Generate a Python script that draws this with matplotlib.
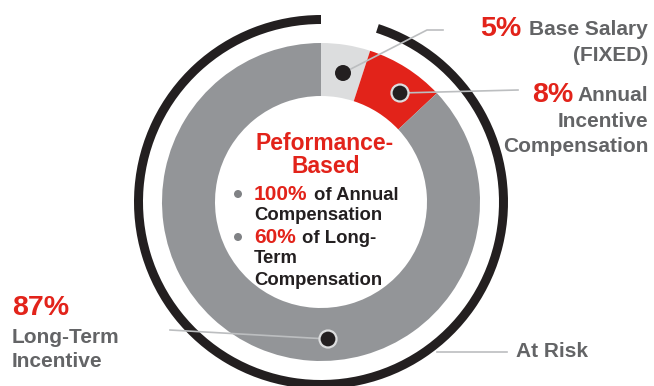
import matplotlib
matplotlib.use("Agg")
import matplotlib.pyplot as plt
from matplotlib.patches import Wedge, Circle
import numpy as np

# data
parts = ["Base Salary (FIXED)", "Annual Incentive Compensation", "Long-Term Incentive"]
shares = [5, 8, 87]
colors = ["#DCDDDE", "#E2231A", "#939598"]
pct_labels = ["5%", "8%", "87%"]

RED = "#E2231A"
GRAY_TXT = "#636466"
DARK = "#231F20"
LINE = "#BCBEC0"
FONT = "Liberation Sans"

W, H = 654, 386
fig = plt.figure(figsize=(W / 100, H / 100), dpi=100)
ax = fig.add_axes([0, 0, 1, 1])

cx, cy = 321, H - 202
R, ring = 159, 53

ax.pie(shares, colors=colors, startangle=90, counterclock=False, radius=R,
       center=(cx, cy), wedgeprops=dict(width=ring, edgecolor="none"))

# "At Risk" arc covers everything but the fixed part
fixed_deg = 360 * shares[0] / sum(shares)
ax.add_patch(Wedge((cx, cy), 187, 90, 450 - fixed_deg, width=9,
                   facecolor=DARK, edgecolor="none"))

ax.set_xlim(0, W)
ax.set_ylim(0, H)
ax.set_aspect("equal")
ax.axis("off")


def y(v):
    return H - v


# leader lines
ax.plot([343, 427, 443], [y(73), y(30), y(30)], color=LINE, lw=1.2, zorder=3)
ax.plot([400, 518], [y(93), y(90)], color=LINE, lw=1.2, zorder=3)
ax.plot([170, 328], [y(330), y(339)], color=LINE, lw=1.2, zorder=3)
ax.plot([437, 507], [y(352), y(352)], color=LINE, lw=1.2, zorder=3)

# marker dots on the ring
ax.add_patch(Circle((343, y(73)), 8, facecolor=DARK, edgecolor="none", zorder=4))
ax.add_patch(Circle((400, y(93)), 8.5, facecolor=DARK, edgecolor="#DCDDDE", lw=1.6, zorder=4))
ax.add_patch(Circle((328, y(339)), 8.5, facecolor=DARK, edgecolor="#DCDDDE", lw=1.6, zorder=4))

kw = dict(fontfamily=FONT, fontweight="bold", va="baseline")

# right labels
ax.text(521, y(36), pct_labels[0], color=RED, fontsize=20.5, ha="right", **kw)
ax.text(648, y(35), "Base Salary", color=GRAY_TXT, fontsize=15, ha="right", **kw)
ax.text(648, y(61), "(FIXED)", color=GRAY_TXT, fontsize=15, ha="right", **kw)

ax.text(573, y(102), pct_labels[1], color=RED, fontsize=20.5, ha="right", **kw)
ax.text(648, y(101), "Annual", color=GRAY_TXT, fontsize=15, ha="right", **kw)
ax.text(648, y(127), "Incentive", color=GRAY_TXT, fontsize=15, ha="right", **kw)
ax.text(648, y(152), "Compensation", color=GRAY_TXT, fontsize=15, ha="right", **kw)

# left label
ax.text(12, y(315), pct_labels[2], color=RED, fontsize=20.5, ha="left", **kw)
ax.text(12, y(343), "Long-Term", color=GRAY_TXT, fontsize=15, ha="left", **kw)
ax.text(12, y(367), "Incentive", color=GRAY_TXT, fontsize=15, ha="left", **kw)

ax.text(516, y(357), "At Risk", color=GRAY_TXT, fontsize=15, ha="left", **kw)

# centre text
ax.text(325, y(150), "Peformance-", color=RED, fontsize=16.5, ha="center", **kw)
ax.text(326, y(173), "Based", color=RED, fontsize=16.5, ha="center", **kw)

ax.add_patch(Circle((238, y(194)), 4, facecolor="#808285", edgecolor="none"))
ax.add_patch(Circle((238, y(237)), 4, facecolor="#808285", edgecolor="none"))

ax.text(254, y(200), "100%", color=RED, fontsize=15, ha="left", **kw)
ax.text(314, y(200), "of Annual", color=DARK, fontsize=13.3, ha="left", **kw)
ax.text(254, y(220), "Compensation", color=DARK, fontsize=13.3, ha="left", **kw)
ax.text(254, y(243), "60%", color=RED, fontsize=15, ha="left", **kw)
ax.text(302, y(243), "of Long-", color=DARK, fontsize=13.3, ha="left", **kw)
ax.text(254, y(263), "Term", color=DARK, fontsize=13.3, ha="left", **kw)
ax.text(254, y(285), "Compensation", color=DARK, fontsize=13.3, ha="left", **kw)

fig.savefig("out.png", dpi=100)
